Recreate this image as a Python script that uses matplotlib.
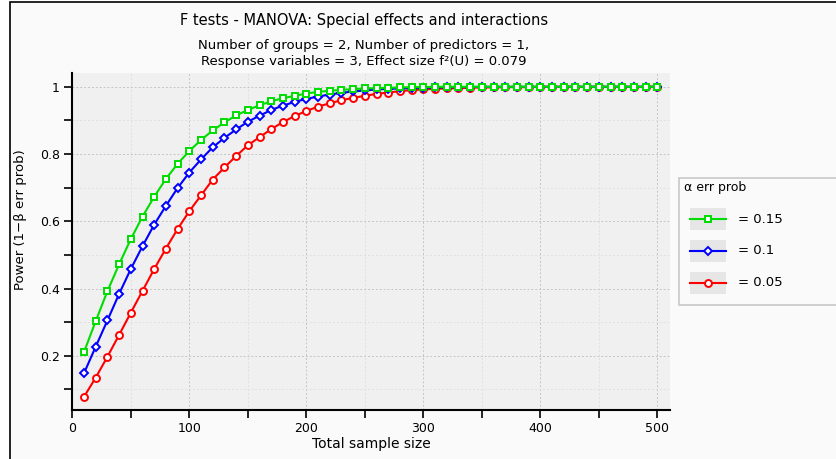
import matplotlib
matplotlib.use("Agg")
import matplotlib.pyplot as plt
from matplotlib.patches import Rectangle
from matplotlib.lines import Line2D
from matplotlib.ticker import MultipleLocator

# total sample size
n = list(range(10, 510, 10))

alpha_labels = ["= 0.15", "= 0.1", "= 0.05"]

power_015 = [0.211, 0.303, 0.392, 0.472, 0.547, 0.614, 0.673, 0.726, 0.771, 0.809,
             0.842, 0.870, 0.894, 0.915, 0.931, 0.945, 0.957, 0.966, 0.973, 0.980,
             0.985, 0.988, 0.991, 0.993, 0.995, 0.996, 0.997, 0.998, 0.999, 0.999,
             1.0, 1.0, 1.0, 1.0, 1.0, 1.0, 1.0, 1.0, 1.0, 1.0,
             1.0, 1.0, 1.0, 1.0, 1.0, 1.0, 1.0, 1.0, 1.0, 1.0]
power_010 = [0.148, 0.227, 0.305, 0.384, 0.458, 0.526, 0.590, 0.646, 0.699, 0.745,
             0.784, 0.820, 0.848, 0.873, 0.896, 0.914, 0.931, 0.944, 0.955, 0.964,
             0.971, 0.977, 0.982, 0.986, 0.989, 0.992, 0.994, 0.995, 0.996, 0.997,
             0.998, 0.998, 0.999, 0.999, 1.0, 1.0, 1.0, 1.0, 1.0, 1.0,
             1.0, 1.0, 1.0, 1.0, 1.0, 1.0, 1.0, 1.0, 1.0, 1.0]
power_005 = [0.078, 0.135, 0.197, 0.262, 0.328, 0.393, 0.458, 0.519, 0.577, 0.630,
             0.677, 0.724, 0.760, 0.794, 0.826, 0.850, 0.874, 0.895, 0.913, 0.928,
             0.941, 0.951, 0.960, 0.967, 0.973, 0.979, 0.983, 0.987, 0.990, 0.992,
             0.994, 0.995, 0.996, 0.997, 0.998, 0.998, 0.999, 0.999, 0.999, 1.0,
             1.0, 1.0, 1.0, 1.0, 1.0, 1.0, 1.0, 1.0, 1.0, 1.0]

W, H = 837, 459
fig = plt.figure(figsize=(W / 100, H / 100), dpi=100)
fig.patch.set_facecolor("white")

# outer frame of the window
fig.patches.append(Rectangle((10 / W, -0.1), 1.2, 1 - 2 / H + 0.1, transform=fig.transFigure,
                             facecolor="#fafafa", edgecolor="black", linewidth=1.2, zorder=-5))

ax = fig.add_axes([72.3 / W, 1 - 410 / H, (670 - 72.3) / W, (410 - 73) / H])
ax.set_facecolor("#f0f0f0")
ax.set_zorder(1)

styles = [
    (power_005, "#ff0000", "o", 5.0),
    (power_010, "#0000ff", "D", 3.8),
    (power_015, "#00dd00", "s", 4.3),
]
for vals, col, mk, ms in styles:
    ax.plot(n, vals, color=col, lw=1.5, marker=mk, ms=ms, mfc="white",
            mec=col, mew=1.4, clip_on=False, zorder=3)

ax.set_xlim(0, 510.8)
ax.set_ylim(0.0387, 1.041)
ax.xaxis.set_major_locator(MultipleLocator(100))
ax.xaxis.set_minor_locator(MultipleLocator(50))
ax.yaxis.set_major_locator(MultipleLocator(0.2))
ax.yaxis.set_minor_locator(MultipleLocator(0.1))
ax.yaxis.set_major_formatter(plt.FuncFormatter(lambda v, p: "1" if abs(v - 1) < 1e-9 else f"{v:.1f}"))
ax.tick_params(which="both", direction="out", length=6, width=1.2, color="black",
               labelsize=9)
ax.tick_params(which="major", pad=3)

ax.grid(which="major", color="#c4c4c4", linestyle=(0, (2, 2)), linewidth=0.7)
ax.grid(which="minor", color="#e0e0e0", linestyle=(0, (2, 2)), linewidth=0.7)
ax.set_axisbelow(True)
for s in ["top", "right"]:
    ax.spines[s].set_visible(False)
for s in ["left", "bottom"]:
    ax.spines[s].set_linewidth(1.5)

ax.set_xlabel("Total sample size", fontsize=10, labelpad=1)
ax.set_ylabel("Power (1\u2212\u03b2 err prob)", fontsize=9.5)
ax.yaxis.set_label_coords((27 - 72.3) / (670 - 72.3), (410 - 220) / (410 - 73))

fig.text(364 / W, 1 - 21 / H, "F tests - MANOVA: Special effects and interactions",
         ha="center", va="center", fontsize=10.5)
fig.text(364 / W, 1 - 45 / H, "Number of groups = 2, Number of predictors = 1,",
         ha="center", va="center", fontsize=9.5)
fig.text(364 / W, 1 - 61 / H, "Response variables = 3, Effect size f\u00b2(U) = 0.079",
         ha="center", va="center", fontsize=9.5)

# legend box drawn by hand
fig.patches.append(Rectangle((679.5 / W, 1 - 305 / H), 0.3, (305 - 178) / H,
                             transform=fig.transFigure, facecolor="#fafafa",
                             edgecolor="#c8c8c8", linewidth=1.2, zorder=1))
fig.text(684 / W, 1 - 187 / H, "\u03b1 err prob", ha="left", va="center", fontsize=9)
leg_items = [("#00dd00", "s", 4.3), ("#0000ff", "D", 3.8), ("#ff0000", "o", 5.0)]
for i, (lab, (col, mk, ms)) in enumerate(zip(alpha_labels, leg_items)):
    yc = 219 + 32 * i
    fig.patches.append(Rectangle((690 / W, 1 - (yc + 11) / H), 36 / W, 22 / H,
                                 transform=fig.transFigure, facecolor="#e6e6e6",
                                 edgecolor="none", zorder=2))
    fig.lines.append(Line2D([690 / W, 726 / W], [1 - yc / H, 1 - yc / H],
                            transform=fig.transFigure, color=col, lw=1.5, zorder=3))
    fig.lines.append(Line2D([708 / W], [1 - yc / H], transform=fig.transFigure, color=col,
                            marker=mk, ms=ms, mfc="white", mec=col, mew=1.4, zorder=4))
    fig.text(738 / W, 1 - yc / H, lab, ha="left", va="center", fontsize=9.5)

fig.savefig("out.png", dpi=100)
